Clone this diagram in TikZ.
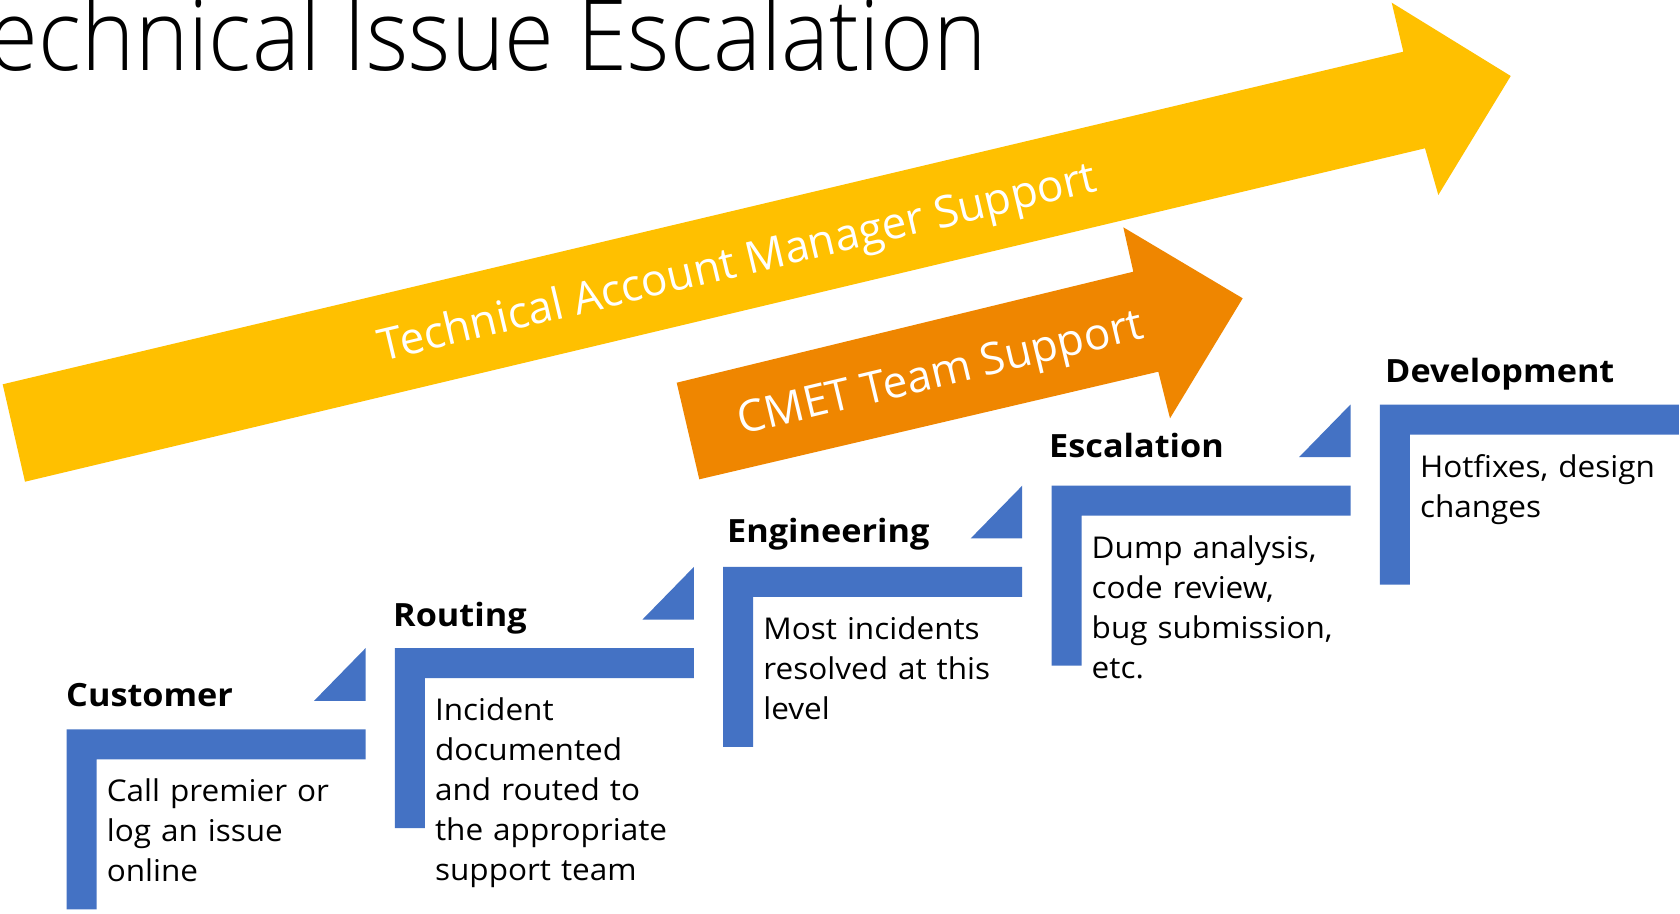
\documentclass[tikz,border=0pt]{standalone}
\usepackage{fontspec}
\setmainfont{Open Sans}
\newfontfamily\bodyfont{Open Sans}[FakeStretch=1.05]
\newfontfamily\headfont{Open Sans}[FakeStretch=1.07]
\IfFontExistsTF{Open Sans Light}{\newfontfamily\titlefont{Open Sans Light}[FakeStretch=0.915]}{\newfontfamily\titlefont{Open Sans}[FakeStretch=0.88]}
\definecolor{stepblue}{HTML}{4472C4}
\definecolor{tamgold}{HTML}{FFC000}
\definecolor{cmetorange}{HTML}{EF8600}
\tikzset{
  heading/.style={anchor=base west, inner sep=0pt, font=\headfont\fontsize{32}{38}\selectfont\bfseries},
  body/.style={anchor=base west, inner sep=0pt, text width=340pt, align=left, font=\bodyfont\fontsize{30}{40}\selectfont},
  bandtext/.style={text=white, inner sep=0pt, font=\fontsize{44}{50}\selectfont},
  stepbar/.style={fill=stepblue},
}
\newcommand{\stepL}[2]{%
  \fill[stepbar] (#1,#2) -- ++(299,0) -- ++(0,30) -- ++(-269,0) -- ++(0,150) -- ++(-30,0) -- cycle;}
\newcommand{\stepTri}[2]{%
  \fill[stepbar] (#1+247.5,#2-28.5) -- (#1+299,#2-81.2) -- (#1+299,#2-28.5) -- cycle;}
\begin{document}
\begin{tikzpicture}[x=1pt,y=-1pt]
\useasboundingbox (0,0) rectangle (1680,913);
\fill[white] (0,0) rectangle (1680,913);

% title
\node[anchor=base east, inner sep=0pt, font=\titlefont\fontsize{99}{110}\selectfont] (title) at (987,70) {Technical Issue Escalation};

% yellow arrow
\fill[tamgold] (2.7,384.3) -- (1403.3,51.7) -- (1391.7,2.7) -- (1510.7,76) -- (1438.3,195) -- (1425,148.3) -- (25,481.7) -- cycle;
\node[bandtext, rotate=13.4] (tam) at (738,265) {Technical Account Manager Support};

% orange arrow
\fill[cmetorange] (676.7,382.7) -- (1133.3,271.7) -- (1123.3,227.3) -- (1242.7,298.3) -- (1170,418.3) -- (1158.3,371.7) -- (699.3,479.3) -- cycle;
\node[bandtext, rotate=13.45] (cmet) at (941,376) {CMET Team Support};

% steps
\stepL{66.6}{729.3}
\stepTri{66.6}{729.3}
\stepL{394.9}{648.1}
\stepTri{394.9}{648.1}
\stepL{723.2}{566.9}
\stepTri{723.2}{566.9}
\stepL{1051.5}{485.7}
\stepTri{1051.5}{485.7}
\stepL{1379.8}{404.5}

\node[heading] (h1) at (66,706) {Customer};
\node[body] (b1) at (106.6,801.8) {Call premier or\\log an issue\\online};

\node[heading] (h2) at (393,626.6) {Routing};
\node[body] (b2) at (434.9,720.6) {Incident\\documented\\and routed to\\the appropriate\\support team};

\node[heading] (h3) at (727,542.4) {Engineering};
\node[body] (b3) at (763.2,639.4) {Most incidents\\resolved at this\\level};

\node[heading] (h4) at (1049,457.2) {Escalation};
\node[body] (b4) at (1091.5,558.2) {Dump analysis,\\code review,\\bug submission,\\etc.};

\node[heading] (h5) at (1385,382.5) {Development};
\node[body] (b5) at (1419.8,477) {Hotfixes, design\\changes};
\end{tikzpicture}
\end{document}
